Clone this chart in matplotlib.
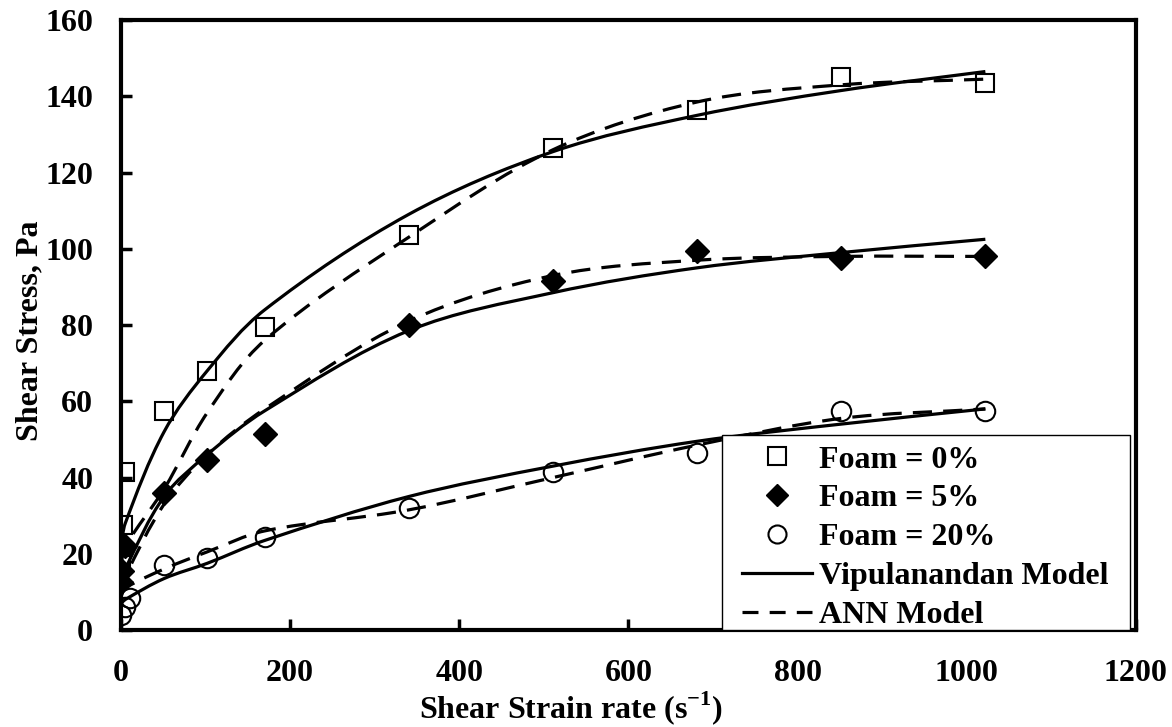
import numpy as np
import matplotlib
matplotlib.use("Agg")
import matplotlib.pyplot as plt
from matplotlib.path import Path
from matplotlib.patches import PathPatch, Rectangle
from matplotlib.lines import Line2D

plt.rcParams["font.family"] = ["Liberation Serif", "DejaVu Serif"]
plt.rcParams["font.weight"] = "bold"
plt.rcParams["mathtext.fontset"] = "custom"
plt.rcParams["mathtext.rm"] = "Liberation Serif:bold"
plt.rcParams["mathtext.bf"] = "Liberation Serif:bold"

# measured data
rate_0 = [0.5, 2.5, 5.1, 51, 102, 170, 340, 511, 681, 851, 1022]
stress_0 = [17, 27.5, 41.5, 57.5, 68, 79.5, 103.5, 126.5, 136.5, 145, 143.5]
rate_5 = [0.5, 1.5, 5.1, 51, 102, 170, 340, 511, 681, 851, 1022]
stress_5 = [12.5, 15.5, 22, 36, 44.5, 51.5, 80, 91.5, 99.5, 97.5, 98]
rate_20 = [0.5, 5.1, 10.2, 51, 102, 170, 340, 511, 681, 851, 1022]
stress_20 = [4, 6, 8.5, 17, 19, 24.5, 32, 41.5, 46.5, 57.5, 57.5]

# model curves (values read at the same shear rates)
model_rate = [0.5, 5.1, 51, 102, 170, 340, 511, 681, 851, 1022]
vip_0 = [22, 28, 52, 68, 84, 109, 125.5, 135, 141.5, 146.5]
ann_0 = [18, 22, 37, 57, 76, 103, 126, 138.5, 143, 144.5]
vip_5 = [12, 16, 35, 46, 57.5, 78.5, 88.5, 95, 99, 102.5]
ann_5 = [10, 14, 33, 46, 58, 81, 93, 97, 98, 98]
vip_20 = [7, 8, 13.5, 17.5, 23.5, 35, 43, 49.5, 54, 58]
ann_20 = [9, 11, 16, 20.5, 26, 31.5, 40, 48.5, 55.5, 58]

fs = 23
lw = 2.3
dash = (0, (6, 3.5))


def smooth_line(ax, xs, ys, ls):
    """Draw an Excel-like smoothed line through the points."""
    pts = ax.transData.transform(np.column_stack([xs, ys]))
    n = len(pts)
    verts = [pts[0]]
    codes = [Path.MOVETO]
    for i in range(n - 1):
        p0 = pts[max(i - 1, 0)]
        p1 = pts[i]
        p2 = pts[i + 1]
        p3 = pts[min(i + 2, n - 1)]
        seg = np.linalg.norm(p2 - p1)
        t1 = p2 - p0
        t2 = p3 - p1
        t1 = t1 / (np.linalg.norm(t1) or 1)
        t2 = t2 / (np.linalg.norm(t2) or 1)
        c1 = p1 + t1 * seg / 3
        c2 = p2 - t2 * seg / 3
        verts += [c1, c2, p2]
        codes += [Path.CURVE4] * 3
    verts = ax.transData.inverted().transform(np.array(verts))
    ax.add_patch(PathPatch(Path(verts, codes), fill=False, color="black",
                           lw=lw, linestyle=ls, capstyle="butt"))


fig = plt.figure(figsize=(11.72, 7.27), dpi=100)
ax = fig.add_axes([0.1032, 0.1334, 0.866, 0.839])
ax.set_xlim(0, 1200)
ax.set_ylim(0, 160)

for m, a in [(vip_0, ann_0), (vip_5, ann_5), (vip_20, ann_20)]:
    smooth_line(ax, model_rate, m, "solid")
    smooth_line(ax, model_rate, a, dash)

ax.plot(rate_0, stress_0, "s", ms=13.5, mfc="none", mec="black", mew=1.5)
ax.plot(rate_5, stress_5, "D", ms=12, mfc="black", mec="black")
ax.plot(rate_20, stress_20, "o", ms=14, mfc="none", mec="black", mew=1.5)

ax.set_xticks(range(0, 1201, 200))
ax.set_yticks(range(0, 161, 20))
ax.tick_params(direction="in", length=8, width=2.5, labelsize=fs)
ax.tick_params(axis="x", pad=21)
ax.tick_params(axis="y", pad=20)
for s in ax.spines.values():
    s.set_linewidth(3)
for lab in ax.get_xticklabels() + ax.get_yticklabels():
    lab.set_fontweight("bold")

ax.set_xlabel(r"Shear Strain rate (s$^{-1}$)", fontsize=fs, fontweight="bold")
ax.xaxis.set_label_coords(0.443, -0.128)
ax.xaxis.label.set_va("center")
ax.set_ylabel("Shear Stress, Pa", fontsize=fs, fontweight="bold")
ax.yaxis.set_label_coords(-0.09, 0.49)
ax.yaxis.label.set_va("center")

# legend frame drawn separately so it can sit flush on the x axis
ax.add_patch(Rectangle((0.592, 0.0), 0.402, 0.3197, transform=ax.transAxes,
                       facecolor="white", edgecolor="black", lw=1.0, zorder=4))

handles = [
    Line2D([], [], ls="none", marker="s", ms=13, mfc="none", mec="black", mew=1.5),
    Line2D([], [], ls="none", marker="D", ms=11, mfc="black", mec="black"),
    Line2D([], [], ls="none", marker="o", ms=13, mfc="none", mec="black", mew=1.5),
    Line2D([], [], color="black", lw=lw),
    Line2D([], [], color="black", lw=lw, ls=(0, (5, 3.5))),
]
labels = ["Foam = 0%", "Foam = 5%", "Foam = 20%", "Vipulanandan Model", "ANN Model"]
leg = ax.legend(handles, labels, loc="upper left", bbox_to_anchor=(0.612, 0.303),
                borderaxespad=0, borderpad=0, frameon=False,
                prop={"weight": "bold", "size": fs},
                handlelength=2.2, handletextpad=0.22, labelspacing=0.295)
leg.set_zorder(5)

fig.savefig("out.png", dpi=100)
